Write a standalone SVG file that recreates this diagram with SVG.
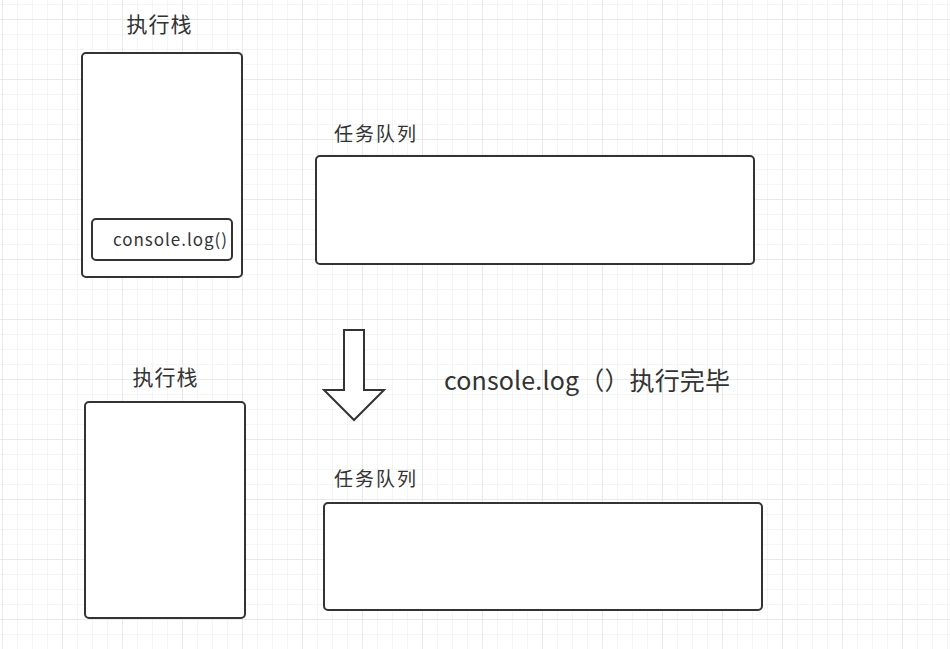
<svg xmlns="http://www.w3.org/2000/svg" width="950" height="649" viewBox="0 0 950 649">
<defs>
<pattern id="minor" x="2" y="4" width="15" height="15" patternUnits="userSpaceOnUse">
<path d="M0 0 H15 M0 0 V15" fill="none" stroke="#ececec" stroke-width="1"/>
</pattern>
<pattern id="major" x="2" y="19" width="60" height="60" patternUnits="userSpaceOnUse">
<path d="M0 0 H60 M0 0 V60" fill="none" stroke="#dedede" stroke-width="1"/>
</pattern>
</defs>
<style>
.box{fill:#fff;stroke:#333;stroke-width:2}
.t{font-family:"Noto Sans CJK SC","Noto Sans",sans-serif;fill:#333}
</style>
<rect width="950" height="649" fill="#fff"/>
<rect width="950" height="649" fill="url(#minor)"/>
<rect width="950" height="649" fill="url(#major)"/>
<g id="stack1">
<text class="t" x="159" y="32" font-size="21" textLength="65" text-anchor="middle">执行栈</text>
<rect class="box" x="82" y="53" width="160" height="224" rx="4"/>
</g>
<g id="console-log">
<rect class="box" x="92" y="219" width="140" height="41" rx="4"/>
<text class="t" x="113" y="246" font-size="17" textLength="114">console.log()</text>
</g>
<g id="queue1">
<text class="t" x="334" y="141" font-size="19" textLength="82">任务队列</text>
<rect class="box" x="316" y="156" width="438" height="108" rx="4"/>
</g>
<g id="connectors">
<path d="M344 330 H364 V390 H384 L354 420 L324 390 H344 Z" fill="#fff" stroke="#333" stroke-width="2" stroke-linejoin="miter"/>
</g>
<g id="label">
<text class="t" x="444" y="390" font-size="25" textLength="286">console.log（）执行完毕</text>
</g>
<g id="stack2">
<text class="t" x="165" y="385" font-size="21" textLength="65" text-anchor="middle">执行栈</text>
<rect class="box" x="85" y="402" width="160" height="216" rx="4"/>
</g>
<g id="queue2">
<text class="t" x="334" y="486" font-size="19" textLength="82">任务队列</text>
<rect class="box" x="324" y="503" width="438" height="107" rx="4"/>
</g>
</svg>
